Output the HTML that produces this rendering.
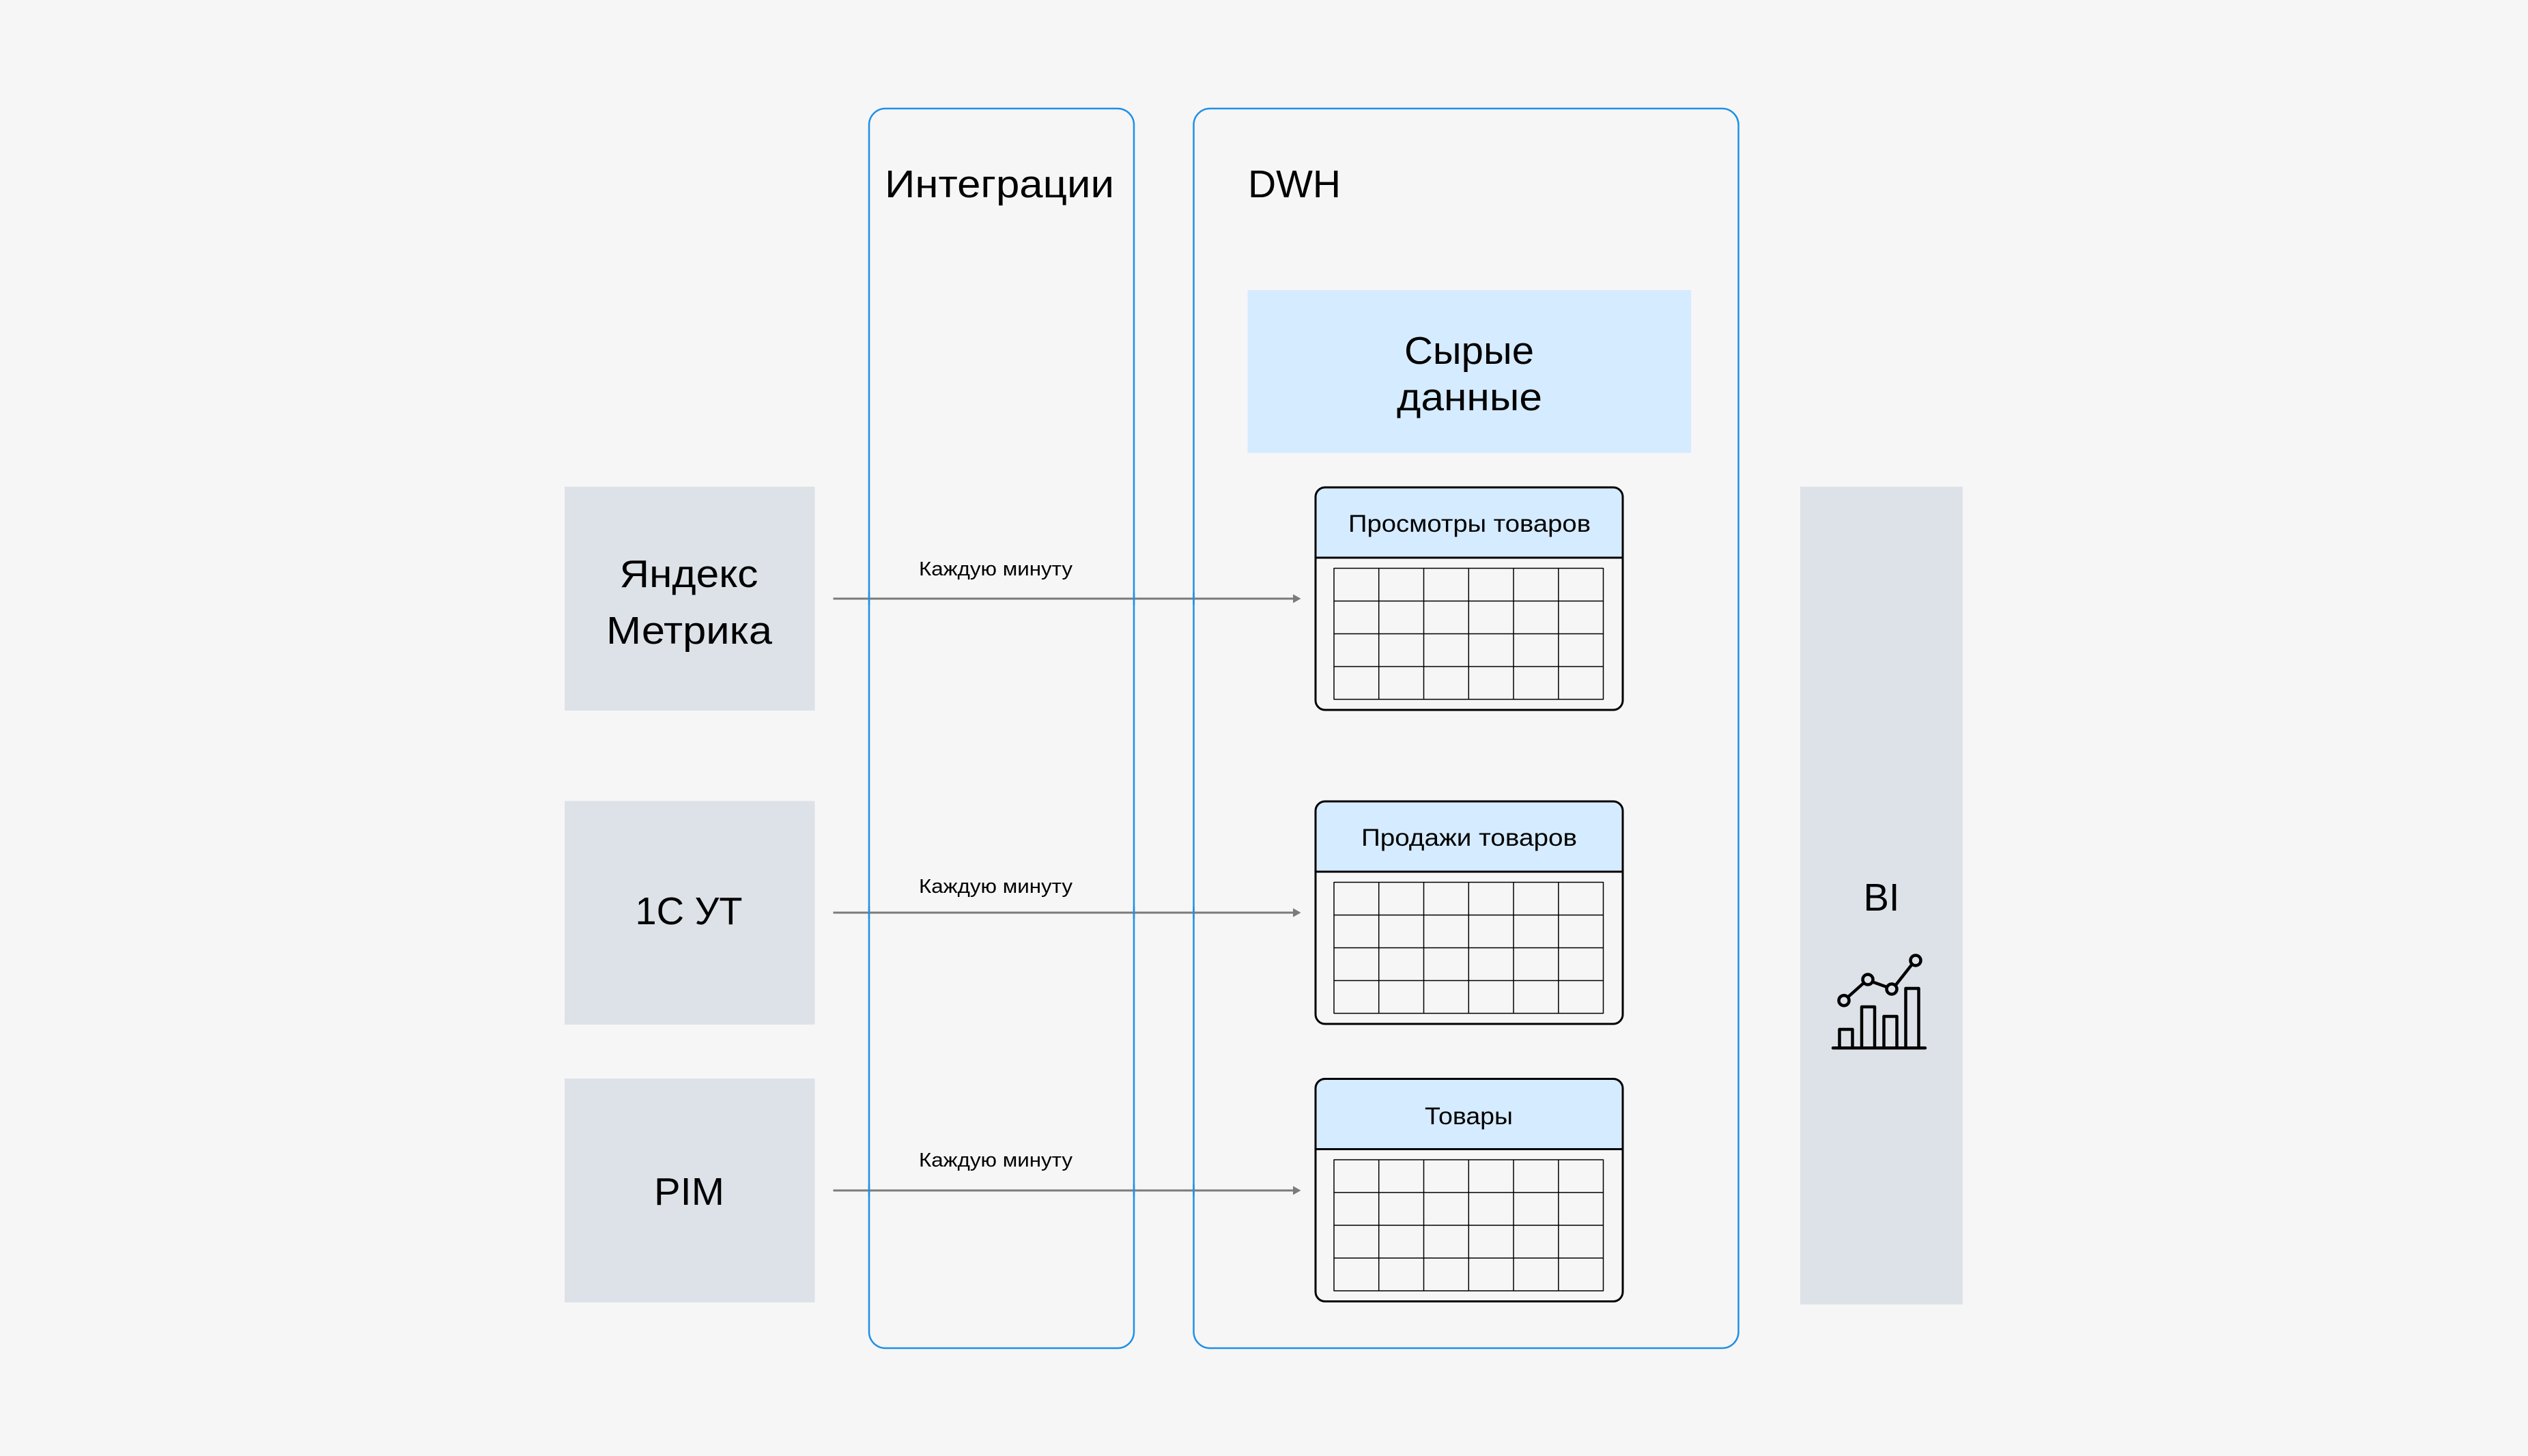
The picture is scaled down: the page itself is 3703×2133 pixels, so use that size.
<!DOCTYPE html>
<html><head><meta charset="utf-8"><title>Diagram</title>
<style>
html,body{margin:0;padding:0;background:#f6f6f6;width:3703px;height:2133px;overflow:hidden}
svg{display:block}
text{font-family:"Liberation Sans",sans-serif;fill:#000}
</style></head>
<body>
<svg xmlns="http://www.w3.org/2000/svg" xmlns:xlink="http://www.w3.org/1999/xlink" width="3703" height="2133" viewBox="0 0 3703 2133">
<rect width="3703" height="2133" fill="#f6f6f6"/>
<defs>
<g id="t">
<rect x="1927" y="714" width="450" height="326" rx="14" fill="#f6f6f6"/>
<path d="M1927 817V728a14 14 0 0 1 14-14H2363a14 14 0 0 1 14 14V817Z" fill="#d5ebff"/>
<rect x="1927" y="714" width="450" height="326" rx="14" fill="none" stroke="#000" stroke-width="3"/>
<path d="M1927 817H2377" stroke="#000" stroke-width="3"/>
<path d="M1954 832.500H2348.500M1954 880.500H2348.500M1954 928.500H2348.500M1954 976.500H2348.500M1954 1024.500H2348.500M1954 832V1025M2019.700 832V1025M2085.500 832V1025M2151.300 832V1025M2217 832V1025M2282.800 832V1025M2348.500 832V1025" stroke="#000" stroke-width="1.500" fill="none"/>
</g>
</defs>

<rect x="827" y="713" width="366.500" height="328" fill="#dde2e8"/>
<rect x="827" y="1173.500" width="366.500" height="327.500" fill="#dde2e8"/>
<rect x="827" y="1580" width="366.500" height="328" fill="#dde2e8"/>
<rect x="2637" y="713" width="238" height="1198" fill="#dde2e8"/>
<rect x="1827.500" y="425" width="649.500" height="238.500" fill="#d5ebff"/>

<rect x="1273" y="159" width="388" height="1816" rx="24" fill="none" stroke="#1e90e8" stroke-width="2.500"/>
<rect x="1748.500" y="159" width="798" height="1816" rx="24" fill="none" stroke="#1e90e8" stroke-width="2.500"/>

<use xlink:href="#t" href="#t"/>
<use xlink:href="#t" href="#t" y="460"/>
<use xlink:href="#t" href="#t" y="866.500"/>

<g stroke="#7b7b7b" stroke-width="3" fill="none">
<path d="M1220.500 877H1896"/>
<path d="M1220.500 1337H1896"/>
<path d="M1220.500 1744H1896"/>
</g>
<g fill="#7b7b7b">
<path d="M1894 870.500L1905.500 877L1894 883.500Z"/>
<path d="M1894 1330.500L1905.500 1337L1894 1343.500Z"/>
<path d="M1894 1737.500L1905.500 1744L1894 1750.500Z"/>
</g>
<g stroke="#1e90e8" stroke-width="2.500">
<path d="M1273 868V886M1661 868V886M1748.500 868V886M1273 1328V1346M1661 1328V1346M1748.500 1328V1346M1273 1735V1753M1661 1735V1753M1748.500 1735V1753"/>
</g>

<g font-size="57">
<text x="1296" y="289" textLength="336" lengthAdjust="spacingAndGlyphs">Интеграции</text>
<text x="1828" y="289" textLength="136" lengthAdjust="spacingAndGlyphs">DWH</text>
<text x="2057" y="533" textLength="190" lengthAdjust="spacingAndGlyphs">Сырые</text>
<text x="2046" y="601" textLength="213" lengthAdjust="spacingAndGlyphs">данные</text>
<text x="907.500" y="860" textLength="203" lengthAdjust="spacingAndGlyphs">Яндекс</text>
<text x="888" y="943" textLength="243" lengthAdjust="spacingAndGlyphs">Метрика</text>
<text x="930.500" y="1354" textLength="157" lengthAdjust="spacingAndGlyphs">1C УТ</text>
<text x="958" y="1765" textLength="103" lengthAdjust="spacingAndGlyphs">PIM</text>
<text x="2729.500" y="1334" textLength="53" lengthAdjust="spacingAndGlyphs">BI</text>
</g>
<g font-size="35">
<text x="1975" y="779" textLength="355" lengthAdjust="spacingAndGlyphs">Просмотры товаров</text>
<text x="1994" y="1239" textLength="316" lengthAdjust="spacingAndGlyphs">Продажи товаров</text>
<text x="2087" y="1647" textLength="129" lengthAdjust="spacingAndGlyphs">Товары</text>
</g>
<g font-size="29">
<text x="1346" y="843" textLength="225" lengthAdjust="spacingAndGlyphs">Каждую минуту</text>
<text x="1346" y="1308" textLength="225" lengthAdjust="spacingAndGlyphs">Каждую минуту</text>
<text x="1346" y="1709" textLength="225" lengthAdjust="spacingAndGlyphs">Каждую минуту</text>
</g>

<g fill="none" stroke="#000" stroke-width="4.500" stroke-linejoin="round" stroke-linecap="round">
<path d="M2685 1535.300H2820"/>
<path d="M2694.500 1535V1508H2713.500V1535M2727 1535V1475H2746V1535M2759.500 1535V1489H2778.500V1535M2791.500 1535V1448H2810.500V1535"/>
<circle cx="2701" cy="1465.700" r="7.500"/>
<circle cx="2736" cy="1435" r="7.500"/>
<circle cx="2771" cy="1449" r="7.500"/>
<circle cx="2806" cy="1407" r="7.500"/>
<path d="M2707 1460.500L2730 1440M2743 1438.500L2764 1446M2776.500 1443.500L2800.500 1413"/>
</g>
</svg>
</body></html>
